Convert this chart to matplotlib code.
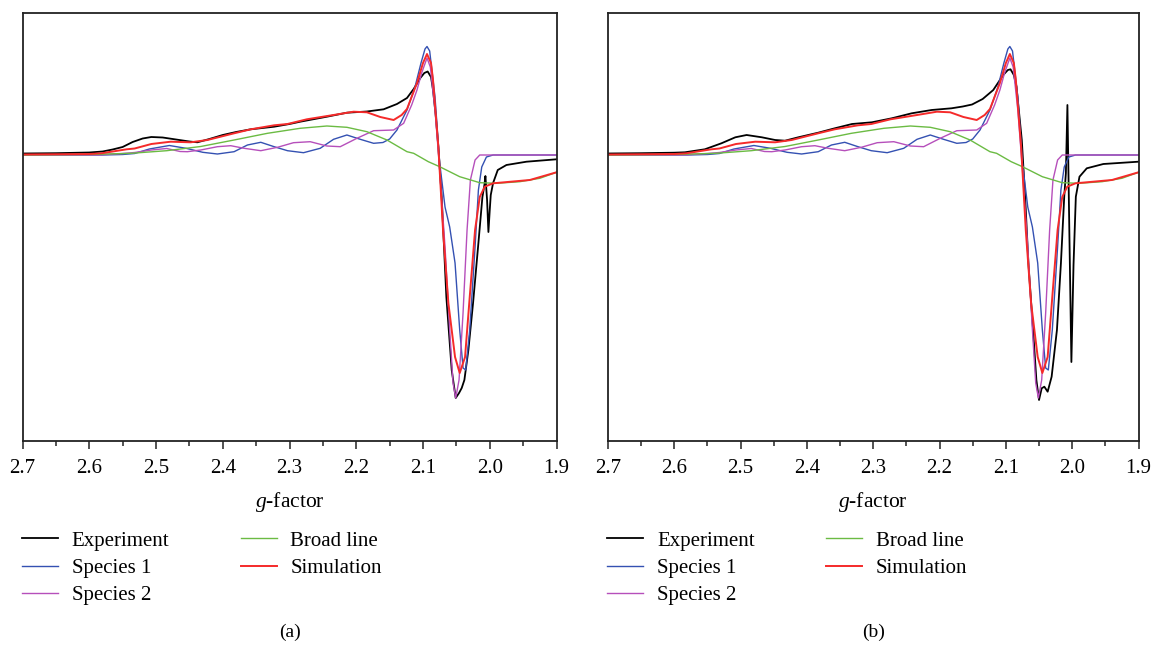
import matplotlib
matplotlib.use("Agg")
import matplotlib.pyplot as plt
from matplotlib.ticker import MultipleLocator, FixedLocator

plt.rcParams['font.family'] = ['Liberation Serif', 'DejaVu Serif']
plt.rcParams['mathtext.fontset'] = 'custom'
plt.rcParams['mathtext.rm'] = 'Liberation Serif'
plt.rcParams['mathtext.it'] = 'Liberation Serif:italic'

# ---------------- data (g-factor, intensity in arbitrary units) ----------------
tick_values = [2.7, 2.6, 2.5, 2.4, 2.3, 2.2, 2.1, 2.0, 1.9]
tick_labels = ["2.7", "2.6", "2.5", "2.4", "2.3", "2.2", "2.1", "2.0", "1.9"]
series_names = ["Experiment", "Species 1", "Species 2", "Broad line", "Simulation"]
panel_tags = ["(a)", "(b)"]

g_exp_a = [2.70, 2.65, 2.60, 2.58, 2.565, 2.55, 2.535, 2.52, 2.507, 2.49, 2.47, 2.45,
           2.438, 2.42, 2.40, 2.38, 2.358, 2.323, 2.30, 2.284, 2.244, 2.214, 2.184,
           2.159, 2.139, 2.124, 2.114, 2.104, 2.098, 2.093, 2.088, 2.085, 2.081,
           2.077, 2.072, 2.065, 2.057, 2.051, 2.046, 2.042, 2.038, 2.032, 2.025,
           2.017, 2.011, 2.008, 2.0065, 2.004, 2.002, 2.000, 1.9985, 1.995, 1.988,
           1.975, 1.945, 1.90]
v_exp_a = [1.5, 1.8, 2.5, 3.5, 5.5, 8, 13, 16.5, 18, 17.5, 15.5, 13.5,
           12.7, 16, 20, 23, 25.7, 28.3, 31, 33.3, 38.3, 42.3, 43.5,
           45.7, 51, 57, 66, 77, 82, 83.5, 78, 65, 40,
           8, -42, -142, -215, -243, -238, -233, -225, -195, -148,
           -88, -42, -30, -21, -45, -77, -55, -40, -28, -15,
           -10, -6.7, -4.3]

g_exp_b = [2.70, 2.65, 2.60, 2.584, 2.554, 2.529, 2.508, 2.491, 2.468, 2.448, 2.433,
           2.413, 2.383, 2.358, 2.332, 2.302, 2.272, 2.242, 2.212, 2.182, 2.165,
           2.151, 2.135, 2.119, 2.104, 2.097, 2.093, 2.088, 2.084, 2.076, 2.071,
           2.066, 2.059, 2.054, 2.050, 2.046, 2.042, 2.037, 2.031, 2.023, 2.017,
           2.012, 2.0095, 2.0072, 2.0042, 2.0012, 1.998, 1.9945, 1.989, 1.978,
           1.953, 1.90]
v_exp_b = [1.5, 1.8, 2.3, 2.7, 5.7, 11.7, 17.7, 20, 17.7, 15, 14.3,
           17.7, 22.3, 26.7, 31, 32.7, 36.7, 41.7, 45, 46.7, 48.5,
           50.5, 56, 65, 80, 85, 85.7, 80, 68.3, 15, -41.7,
           -108.3, -175, -225, -245, -233.3, -231.7, -236.7, -221.7, -175, -108.3,
           -41.7, -18, 50, -80, -207, -110, -41.7, -21.7, -13.3,
           -9, -6.7]

g_sp1 = [2.70, 2.60, 2.58, 2.55, 2.532, 2.51, 2.48, 2.455, 2.43, 2.408, 2.383, 2.363,
         2.343, 2.323, 2.303, 2.279, 2.254, 2.234, 2.214, 2.194, 2.174, 2.160, 2.150,
         2.139, 2.124, 2.112, 2.103, 2.097, 2.094, 2.090, 2.082, 2.075, 2.067, 2.060,
         2.052, 2.045, 2.040, 2.036, 2.030, 2.022, 2.017, 2.012, 2.005, 1.995, 1.90]
v_sp1 = [0, 0, 0, 0.5, 1.5, 6, 9.5, 6.7, 2.7, 1, 3.3, 10,
         12.7, 8.3, 4.3, 2.3, 6.7, 15.7, 20, 15.7, 11.7, 12.5, 16,
         25, 45, 68, 92, 106, 108.5, 104, 58, -8, -52, -72,
         -108, -175, -213, -215, -175, -92, -35, -12, -2, 0, 0]

g_sp2 = [2.70, 2.60, 2.58, 2.55, 2.532, 2.507, 2.484, 2.464, 2.453, 2.433, 2.408,
         2.388, 2.368, 2.343, 2.318, 2.294, 2.269, 2.244, 2.224, 2.199, 2.174, 2.144,
         2.129, 2.117, 2.109, 2.102, 2.094, 2.089, 2.082, 2.075, 2.067, 2.060, 2.055,
         2.051, 2.046, 2.040, 2.034, 2.029, 2.022, 2.015, 1.90]
v_sp2 = [0, 0, 0.3, 1.5, 2.5, 5, 6.5, 3.5, 3.3, 5, 8.3,
         9.3, 6.7, 4.3, 7.7, 12.3, 13.3, 9, 8.3, 16.7, 24.3, 25,
         31.7, 50, 65, 82, 97, 88, 45, -15, -92, -175, -228,
         -243, -225, -158, -75, -25, -5, 0, 0]

g_broad = [2.70, 2.60, 2.537, 2.484, 2.433, 2.383, 2.333, 2.284, 2.244, 2.214, 2.184,
           2.154, 2.124, 2.114, 2.092, 2.075, 2.045, 2.015, 1.990, 1.955, 1.925, 1.90]
v_broad = [0, 0.5, 1.7, 4.3, 8.5, 15, 21.7, 26.7, 29, 27.7, 23.3,
           15, 3.3, 1.7, -6.7, -11.7, -21.7, -27.7, -28.3, -26.7, -23.3, -17.3]

g_sim = [2.70, 2.60, 2.582, 2.544, 2.532, 2.507, 2.478, 2.448, 2.423, 2.383, 2.358,
         2.323, 2.303, 2.274, 2.234, 2.204, 2.184, 2.164, 2.144, 2.132, 2.124, 2.109,
         2.100, 2.094, 2.088, 2.085, 2.077, 2.070, 2.062, 2.052, 2.045, 2.037, 2.030,
         2.022, 2.015, 2.0075, 1.995, 1.94, 1.90]
v_sim = [0.5, 1, 1.7, 5.7, 6.5, 11, 13.3, 12.7, 15, 21.7, 25.7,
         29.7, 31, 35.7, 40, 43.3, 42.7, 38, 35, 40, 46, 72,
         92, 101, 92, 75, 8.3, -75, -148, -202, -218, -202, -142,
         -75, -42, -31.7, -28.3, -25, -17.3]

# ---------------- styles ----------------
colors = ["#000000", "#3451b2", "#b64fbb", "#6bbb43", "#f52a2a"]
widths = [1.3, 1.0, 1.0, 1.0, 1.4]

W, H = 1154, 645
fig = plt.figure(figsize=(W / 100, H / 100), dpi=100)

panels = [
    dict(left=22.5, right=556.5, exp=(g_exp_a, v_exp_a)),
    dict(left=608.0, right=1138.5, exp=(g_exp_b, v_exp_b)),
]
top_px, bot_px = 12.5, 441.0

for i, p in enumerate(panels):
    ax = fig.add_axes([p["left"] / W, 1 - bot_px / H,
                       (p["right"] - p["left"]) / W, (bot_px - top_px) / H])
    data = [p["exp"], (g_sp1, v_sp1), (g_sp2, v_sp2), (g_broad, v_broad), (g_sim, v_sim)]
    handles = []
    for (gx, vy), name, c, lw in zip(data, series_names, colors, widths):
        h, = ax.plot(gx, vy, color=c, lw=lw, label=name, solid_joinstyle='round')
        handles.append(h)
    ax.set_xlim(2.7, 1.9)
    ax.set_ylim(-286, 142.5)
    ax.set_yticks([])
    ax.xaxis.set_major_locator(FixedLocator(tick_values))
    ax.set_xticklabels(tick_labels)
    ax.xaxis.set_minor_locator(MultipleLocator(0.05))
    ax.tick_params(axis='x', which='major', direction='out', length=6, width=1.1,
                   labelsize=15, pad=7, color='#222222')
    ax.tick_params(axis='x', which='minor', direction='out', length=3.5, width=1.1,
                   color='#222222')
    for s in ax.spines.values():
        s.set_color('#222222')
        s.set_linewidth(1.3)

    cx = (p["left"] + p["right"]) / 2 / W
    fig.text(cx, 1 - 502 / H, "$g$-factor", ha='center', va='center', fontsize=15.5)
    fig.text(cx, 1 - 632 / H, panel_tags[i], ha='center', va='center', fontsize=14)

    lx = p["left"] - 1
    leg_kw = dict(frameon=False, fontsize=15, handlelength=1.75, handletextpad=0.65,
                  labelspacing=0.37, borderpad=0, borderaxespad=0, loc='upper left')
    leg1 = fig.legend(handles[:3], series_names[:3],
                      bbox_to_anchor=(lx / W, 1 - 531 / H), **leg_kw)
    leg2 = fig.legend(handles[3:], series_names[3:],
                      bbox_to_anchor=((lx + 219) / W, 1 - 531 / H), **leg_kw)

fig.savefig("out.png", dpi=100)
